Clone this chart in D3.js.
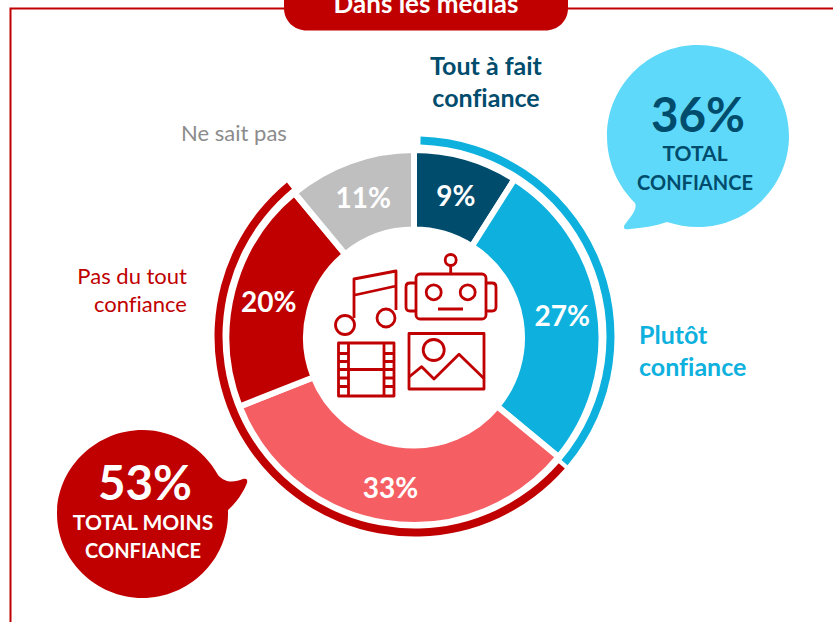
<!DOCTYPE html>
<html>
<head>
<meta charset="utf-8">
<script src="https://cdn.jsdelivr.net/npm/d3@7"></script>
<style>
  html, body { margin: 0; padding: 0; background: #fff; overflow: hidden; }
  text { font-family: Lato, "Open Sans", sans-serif; font-variant-ligatures: none; }
</style>
</head>
<body>
<div id="chart"></div>
<script>
const categories = ["Tout à fait confiance", "Plutôt confiance", "Moins confiance", "Pas du tout confiance", "Ne sait pas"];
const values = [9, 27, 33, 20, 11];
const sliceColors = ["#004C6D", "#0EB1DE", "#F55F64", "#C00000", "#BFBFBF"];

const totalNames = ["Total confiance", "Total moins confiance", "Reste"];
const totalValues = [36, 53, 11];
const totalColors = ["#0EB1DE", "#C00000", "none"];

const RED = "#C00000", NAVY = "#004C6D", SKY = "#5FD9F9", CYAN = "#0EB1DE";
const width = 833, height = 622;

const svg = d3.select("#chart").append("svg")
  .attr("width", width)
  .attr("height", height)
  .style("display", "block");

// frame + title pill
svg.append("path")
  .attr("d", `M${width},8.5H10.5V${height}`)
  .attr("fill", "none")
  .attr("stroke", RED)
  .attr("stroke-width", 2);

svg.append("path")
  .attr("d", "M284,-5H568V8C568,21 558,30.5 545,30.5H307C294,30.5 284,21 284,8Z")
  .attr("fill", RED);

addText(426, 13, "Dans les médias", 26, "#fff", "bold", "middle");

const ring = svg.append("g").attr("transform", "translate(414,337.5)");

// main donut, radii allow for the white stroke
const pie = d3.pie().sort(null).value(d => d).startAngle(0).endAngle(2 * Math.PI);
const arc = d3.arc().innerRadius(108).outerRadius(187.5);
const labelArc = d3.arc().innerRadius(150).outerRadius(150);

ring.selectAll(".slice")
  .data(pie(values))
  .enter()
  .append("path")
  .attr("class", "slice")
  .attr("d", arc)
  .attr("fill", (d, i) => sliceColors[i])
  .attr("stroke", "#fff")
  .attr("stroke-width", 6);

ring.selectAll(".sliceLabel")
  .data(pie(values))
  .enter()
  .append("text")
  .attr("class", "sliceLabel")
  .attr("transform", d => `translate(${labelArc.centroid(d)})`)
  .attr("text-anchor", "middle")
  .attr("dy", "0.43em")
  .attr("fill", "#fff")
  .style("font-size", "28px")
  .style("font-weight", "bold")
  .text(d => d.data + "%");

// outer ring with the totals
const outerRing = svg.append("g").attr("transform", "translate(414.5,336.5)");
const outerArc = d3.arc().innerRadius(192).outerRadius(200);
const outerPie = d3.pie().sort(null).value(d => d).startAngle(0.02).endAngle(2 * Math.PI + 0.02).padAngle(0.015);

outerRing.selectAll(".total")
  .data(outerPie(totalValues))
  .enter()
  .append("path")
  .attr("class", "total")
  .attr("d", outerArc)
  .attr("fill", (d, i) => totalColors[i]);

// category labels
addText(486, 75, "Tout à fait", 25, NAVY, "bold", "middle");
addText(486, 107, "confiance", 25, NAVY, "bold", "middle");
addText(234, 141, "Ne sait pas", 22, "#8C8C8C", "normal", "middle");
addText(187, 284, "Pas du tout", 22, RED, "normal", "end");
addText(187, 312, "confiance", 22, RED, "normal", "end");
addText(639, 344, "Plutôt", 25, CYAN, "bold", "start");
addText(639, 376, "confiance", 25, CYAN, "bold", "start");

// speech bubbles
svg.append("path")
  .attr("d", "M698,45C648,45 607,86 607,136C607,163 618,186 635,203C637,208 634,213 626,223C622,228 624,230 630,229C642,228 655,226 667,222C677,225 687,227 698,227C748,227 789,186 789,136C789,86 748,45 698,45Z")
  .attr("fill", SKY);
addText(698, 132, "36%", 47.5, NAVY, "bold", "middle");
addText(695, 161, "TOTAL", 21, NAVY, "bold", "middle");
addText(695, 190, "CONFIANCE", 20, NAVY, "bold", "middle");

svg.append("path")
  .attr("d", "M142.5,430C96,430 57,468 57,514C57,560 96,598 142.5,598C189,598 228,560 228,514C228,512 228,511 228,510C236,503 243,493 247,483C248,479 246,478 243,479C235,482 226,484 218,475C204,449 175,430 142.5,430Z")
  .attr("fill", RED);
addText(145, 500, "53%", 47.5, "#fff", "bold", "middle");
addText(143, 530, "TOTAL MOINS", 21, "#fff", "bold", "middle");
addText(143, 558, "CONFIANCE", 20, "#fff", "bold", "middle");

// media icons in the hole
const icons = svg.append("g")
  .attr("fill", "none")
  .attr("stroke", RED)
  .attr("stroke-width", 2.8)
  .attr("stroke-linejoin", "round");

// note
icons.append("circle").attr("cx", 345).attr("cy", 325).attr("r", 9.5);
icons.append("circle").attr("cx", 386).attr("cy", 318).attr("r", 9);
icons.append("path").attr("d", "M354,318V279L396,271V310M355,295L396,286");

// robot
icons.append("rect").attr("x", 416).attr("y", 274).attr("width", 70).attr("height", 45).attr("rx", 4);
icons.append("path").attr("d", "M416,283H410Q406,283 406,287V307Q406,311 410,311H416M486,283H492Q496,283 496,287V307Q496,311 492,311H486");
icons.append("circle").attr("cx", 433.7).attr("cy", 292.3).attr("r", 7.5);
icons.append("circle").attr("cx", 467.7).attr("cy", 292.3).attr("r", 7.5);
icons.append("path").attr("d", "M438,309H463M450.7,265V274");
icons.append("circle").attr("cx", 450.7).attr("cy", 260).attr("r", 5.5);

// film strip
icons.append("rect").attr("x", 338.5).attr("y", 343).attr("width", 55.5).attr("height", 53);
icons.append("path").attr("d", "M348.5,343V396M384,343V396M348.5,369.5H384M338.5,353.5H348.5M338.5,361.5H348.5M338.5,369.5H348.5M338.5,378H348.5M338.5,386.5H348.5M384,353.5H394M384,361.5H394M384,369.5H394M384,378H394M384,386.5H394");

// picture
icons.append("rect").attr("x", 409).attr("y", 333.5).attr("width", 75).attr("height", 55.5);
icons.append("circle").attr("cx", 433.7).attr("cy", 350).attr("r", 10.5);
icons.append("path").attr("d", "M409,377L421.7,366.7L434,379L459,354.3L484,378.5");

function addText(x, y, str, size, color, weight, anchor) {
  return svg.append("text")
    .attr("x", x)
    .attr("y", y)
    .attr("text-anchor", anchor)
    .attr("fill", color)
    .style("font-size", size + "px")
    .style("font-weight", weight)
    .text(str);
}
</script>
</body>
</html>
